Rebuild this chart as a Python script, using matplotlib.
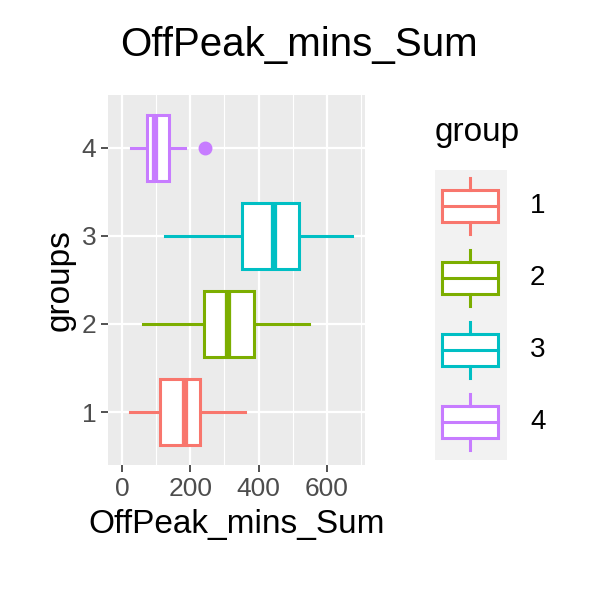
import matplotlib
matplotlib.use("Agg")
import matplotlib.pyplot as plt
from matplotlib.patches import Rectangle

plt.rcParams['font.family'] = ['Liberation Sans', 'DejaVu Sans']

groups = [1, 2, 3, 4]
colors = ["#F8766D", "#7CAE00", "#00BFC4", "#C77CFF"]
wlo = [23, 61, 126, 26]
q1 = [111, 239, 350, 73]
med = [184, 309, 444, 96]
q3 = [228, 386, 517, 137]
whi = [359, 549, 674, 184]
outliers = {4: [242]}

fig = plt.figure(figsize=(6, 6), dpi=100)
ax = fig.add_axes([0.18, 0.225, 0.428, 0.617])
ax.set_facecolor("#EBEBEB")
ax.set_xlim(-41, 711)
ax.set_ylim(0.4, 4.6)
for x in [0, 200, 400, 600]:
    ax.axvline(x, color="white", lw=1.6, zorder=0)
for x in [100, 300, 500, 700]:
    ax.axvline(x, color="white", lw=0.8, zorder=0)
for y in groups:
    ax.axhline(y, color="white", lw=1.6, zorder=0)
h = 0.75
for i, g in enumerate(groups):
    c = colors[i]
    ax.plot([wlo[i], q1[i]], [g, g], color=c, lw=2.2, zorder=2)
    ax.plot([q3[i], whi[i]], [g, g], color=c, lw=2.2, zorder=2)
    ax.add_patch(Rectangle((q1[i], g - h / 2), q3[i] - q1[i], h, facecolor="white",
                           edgecolor=c, lw=2.2, zorder=3))
    ax.plot([med[i], med[i]], [g - h / 2, g + h / 2], color=c, lw=4.5,
            solid_capstyle="butt", zorder=4)
    for o in outliers.get(g, []):
        ax.plot(o, g, "o", color=c, ms=9, zorder=4)
for s in ax.spines.values():
    s.set_visible(False)
ax.set_xticks([0, 200, 400, 600])
ax.set_yticks(groups)
ax.tick_params(labelsize=19, labelcolor="#4D4D4D", color="#333333", length=5, width=1.2)
ax.set_xlabel("OffPeak_mins_Sum", fontsize=24, labelpad=6)
ax.set_ylabel("groups", fontsize=24, labelpad=4)
fig.text(0.2, 0.925, "OffPeak_mins_Sum", fontsize=29, va="center", ha="left")

lax = fig.add_axes([0, 0, 1, 1], facecolor="none")
lax.set_xlim(0, 600); lax.set_ylim(600, 0); lax.axis("off")
lax.text(435, 132, "group", fontsize=24, va="center", ha="left")
lax.add_patch(Rectangle((435, 170), 72, 290, facecolor="#F2F2F2", edgecolor="none"))
for i, g in enumerate(groups):
    cy = 206 + i * 72
    c = colors[i]
    lax.plot([470, 470], [cy - 28, cy - 16], color=c, lw=2.2)
    lax.plot([470, 470], [cy + 16, cy + 28], color=c, lw=2.2)
    lax.add_patch(Rectangle((442, cy - 16), 56, 32, facecolor="white", edgecolor=c, lw=2.2))
    lax.plot([442, 498], [cy, cy], color=c, lw=2.2)
    lax.text(530, cy, str(g), fontsize=20, va="center", ha="left")
fig.savefig("out.png")
